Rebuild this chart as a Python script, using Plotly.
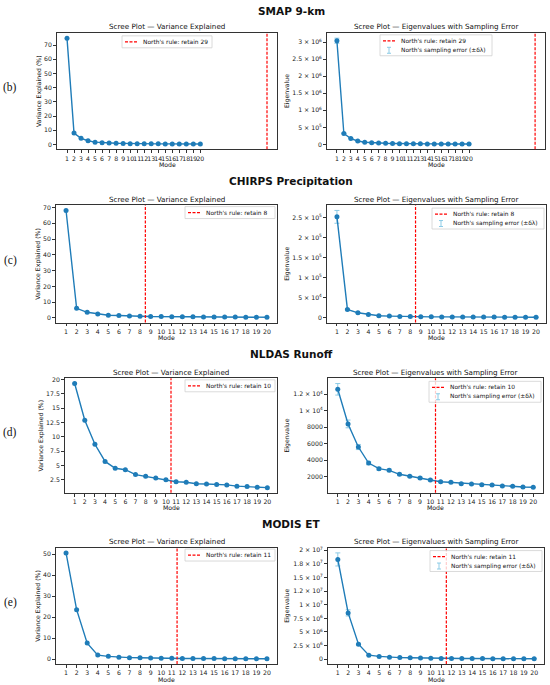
import plotly.graph_objects as go
from plotly.subplots import make_subplots

W, H = 550, 685

modes = list(range(1, 21))

# variance explained (%) per mode
smap_var = [74.9, 8.0, 4.3, 2.6, 1.6, 1.2, 1.0, 0.8, 0.7, 0.55, 0.5, 0.45, 0.4, 0.4, 0.35, 0.35, 0.3, 0.3, 0.3, 0.25]
chirps_var = [68.1, 6.1, 3.6, 2.5, 1.7, 1.6, 1.2, 1.1, 0.9, 0.85, 0.8, 0.7, 0.7, 0.65, 0.6, 0.6, 0.55, 0.5, 0.5, 0.45]
nldas_var = [19.3, 12.9, 8.7, 5.7, 4.5, 4.25, 3.4, 3.1, 2.8, 2.5, 2.15, 2.05, 1.8, 1.75, 1.68, 1.6, 1.38, 1.3, 1.18, 1.12]
modis_var = [50.6, 23.6, 7.7, 2.0, 1.4, 0.95, 0.8, 0.75, 0.6, 0.55, 0.45, 0.4, 0.4, 0.35, 0.35, 0.3, 0.3, 0.3, 0.25, 0.25]

# eigenvalues and North's sampling error
smap_eig = [3.04e6, 3.2e5, 1.7e5, 1.0e5, 6.2e4, 4.6e4, 3.9e4, 3.2e4, 2.8e4, 2.2e4, 2.0e4, 1.8e4, 1.6e4, 1.5e4, 1.4e4, 1.3e4, 1.2e4, 1.1e4, 1.05e4, 1.0e4]
smap_err = [7.5e4, 8.0e3, 4.2e3, 2.5e3, 1.5e3, 1.1e3, 950, 800, 700, 550, 500, 450, 400, 370, 350, 320, 300, 270, 260, 250]
chirps_eig = [2.52e5, 2.1e4, 1.25e4, 8.5e3, 5.2e3, 4.3e3, 3.4e3, 3.0e3, 2.6e3, 2.4e3, 2.3e3, 2.1e3, 2.0e3, 1.9e3, 1.8e3, 1.75e3, 1.7e3, 1.6e3, 1.55e3, 1.5e3]
chirps_err = [1.6e4, 1.3e3, 790, 540, 330, 270, 215, 190, 165, 150, 145, 130, 125, 120, 115, 110, 107, 100, 98, 95]
nldas_eig = [12600, 8400, 5600, 3650, 2970, 2770, 2290, 2040, 1840, 1600, 1390, 1310, 1150, 1110, 1030, 990, 870, 830, 750, 710]
nldas_err = [700, 470, 310, 205, 165, 155, 128, 114, 103, 90, 78, 73, 64, 62, 58, 55, 49, 46, 42, 40]
modis_eig = [1.83e7, 8.5e6, 2.75e6, 7.5e5, 5.2e5, 3.6e5, 3.0e5, 2.7e5, 2.2e5, 2.0e5, 1.6e5, 1.5e5, 1.4e5, 1.3e5, 1.25e5, 1.1e5, 1.05e5, 1.0e5, 9.0e4, 9.0e4]
modis_err = [1.2e6, 5.6e5, 1.8e5, 5.0e4, 3.4e4, 2.4e4, 2.0e4, 1.8e4, 1.5e4, 1.3e4, 1.1e4, 1.0e4, 9.0e3, 8.5e3, 8.0e3, 7.0e3, 7.0e3, 6.5e3, 6.0e3, 6.0e3]

datasets = ["SMAP 9-km", "CHIRPS Precipitation", "NLDAS Runoff", "MODIS ET"]
tags = ["(b)", "(c)", "(d)", "(e)"]
retain = [29, 8, 10, 11]
var_data = [smap_var, chirps_var, nldas_var, modis_var]
eig_data = [smap_eig, chirps_eig, nldas_eig, modis_eig]
err_data = [smap_err, chirps_err, nldas_err, modis_err]
var_dtick = [10, 10, 2.5, 10]

eig_tickvals = [
    [0, 5e5, 1e6, 1.5e6, 2e6, 2.5e6, 3e6],
    [0, 5e4, 1e5, 1.5e5, 2e5, 2.5e5],
    [2000, 4000, 6000, 8000, 1e4, 1.2e4],
    [0, 2.5e6, 5e6, 7.5e6, 1e7, 1.25e7, 1.5e7, 1.75e7, 2e7],
]
eig_ticktext = [
    ["0", "5 × 10<sup>5</sup>", "1 × 10<sup>6</sup>", "1.5 × 10<sup>6</sup>", "2 × 10<sup>6</sup>", "2.5 × 10<sup>6</sup>", "3 × 10<sup>6</sup>"],
    ["0", "5 × 10<sup>4</sup>", "1 × 10<sup>5</sup>", "1.5 × 10<sup>5</sup>", "2 × 10<sup>5</sup>", "2.5 × 10<sup>5</sup>"],
    ["2000", "4000", "6000", "8000", "1 × 10<sup>4</sup>", "1.2 × 10<sup>4</sup>"],
    ["0", "2.5 × 10<sup>6</sup>", "5 × 10<sup>6</sup>", "7.5 × 10<sup>6</sup>", "1 × 10<sup>7</sup>", "1.2 × 10<sup>7</sup>", "1.5 × 10<sup>7</sup>", "1.8 × 10<sup>7</sup>", "2 × 10<sup>7</sup>"],
]

# pixel layout (top, bottom of axes; x extents)
rows_px = [(30, 147), (203, 321), (377, 492), (547, 664)]
left_px = [(57, 277), (56, 277), (65, 277), (56, 277)]
right_px = [(327, 545), (327, 546), (328, 543), (328, 544)]
head_y = [8, 179, 353, 523]
tag_y = [85, 259, 431, 602]

LINE = "#1f7cb8"
ERR = "#8ccbe6"
FONT = "DejaVu Sans"


def px(x):
    return x / W


def py(y):
    return 1 - y / H


def pad(lo, hi):
    d = (hi - lo) * 0.05
    return [lo - d, hi + d]


def text(fig, s, x, y, size, xanchor="center", angle=0, bold=False, family=FONT):
    fig.add_annotation(text="<b>%s</b>" % s if bold else s, x=px(x), y=py(y),
                       xref="paper", yref="paper", showarrow=False,
                       xanchor=xanchor, yanchor="middle", textangle=angle,
                       font=dict(family=family, size=size, color="#111"))


def legend(fig, x0, y0, w, label, with_err):
    h = 21 if with_err else 12
    fig.add_shape(type="rect", xref="paper", yref="paper",
                  x0=px(x0), x1=px(x0 + w), y0=py(y0 + h), y1=py(y0),
                  line=dict(color="#d0d0d0", width=0.8),
                  fillcolor="rgba(255,255,255,0.8)")
    cy = y0 + 6
    fig.add_shape(type="line", xref="paper", yref="paper",
                  x0=px(x0 + 3), x1=px(x0 + 15), y0=py(cy), y1=py(cy),
                  line=dict(color="red", width=1.2, dash="3px,1.5px"))
    text(fig, label, x0 + 19, cy, 5.9, xanchor="left")
    if with_err:
        cy2 = cy + 9.5
        xc = x0 + 9
        fig.add_shape(type="line", xref="paper", yref="paper",
                      x0=px(xc), x1=px(xc), y0=py(cy2 - 3), y1=py(cy2 + 3),
                      line=dict(color=ERR, width=1))
        for yy in (cy2 - 3, cy2 + 3):
            fig.add_shape(type="line", xref="paper", yref="paper",
                          x0=px(xc - 2), x1=px(xc + 2), y0=py(yy), y1=py(yy),
                          line=dict(color=ERR, width=1))
        text(fig, "North's sampling error (±δλ)", x0 + 19, cy2, 5.9, xanchor="left")


fig = make_subplots(rows=4, cols=2)

axis_style = dict(showgrid=False, zeroline=False, showline=True, mirror=True,
                  linecolor="#333", linewidth=0.8, ticks="outside", ticklen=3,
                  tickwidth=0.8, tickcolor="#333",
                  tickfont=dict(family=FONT, size=6.2, color="#222"))

for i in range(4):
    r = i + 1
    top, bot = rows_px[i]
    xmax = max(20, retain[i] + 0.5)
    xr = pad(1, xmax)

    # left: variance explained
    v = var_data[i]
    fig.add_trace(go.Scatter(x=modes, y=v, mode="lines+markers",
                             line=dict(color=LINE, width=1.4),
                             marker=dict(color=LINE, size=5), showlegend=False),
                  row=r, col=1)
    fig.update_xaxes(axis_style, range=xr, tickvals=modes, tickangle=0,
                     domain=[px(left_px[i][0]), px(left_px[i][1])], row=r, col=1)
    fig.update_yaxes(axis_style, range=pad(min(v), max(v)), dtick=var_dtick[i],
                     domain=[py(bot), py(top)], row=r, col=1)

    # right: eigenvalues with error bars
    e = eig_data[i]
    er = err_data[i]
    fig.add_trace(go.Scatter(x=modes, y=e, mode="lines+markers",
                             line=dict(color=LINE, width=1.4),
                             marker=dict(color=LINE, size=5),
                             error_y=dict(type="data", array=er, color=ERR,
                                          thickness=1, width=2.5),
                             showlegend=False),
                  row=r, col=2)
    lo = min(a - b for a, b in zip(e, er))
    hi = max(a + b for a, b in zip(e, er))
    fig.update_xaxes(axis_style, range=xr, tickvals=modes, tickangle=0,
                     domain=[px(right_px[i][0]), px(right_px[i][1])], row=r, col=2)
    fig.update_yaxes(axis_style, range=pad(lo, hi), tickvals=eig_tickvals[i],
                     ticktext=eig_ticktext[i],
                     domain=[py(bot), py(top)], row=r, col=2)

    # North's rule cut-off
    for c in (1, 2):
        n = 2 * i + c
        fig.add_shape(type="line", xref="x%d" % n if n > 1 else "x",
                      yref=("y%d domain" % n) if n > 1 else "y domain",
                      x0=retain[i] + 0.5, x1=retain[i] + 0.5, y0=0, y1=1,
                      line=dict(color="red", width=1.2, dash="3px,1.5px"))

    # texts
    lx0, lx1 = left_px[i]
    rx0, rx1 = right_px[i]
    text(fig, datasets[i], 291, head_y[i], 10.5, bold=True)
    text(fig, tags[i], 10, tag_y[i], 11.5, family="Liberation Serif")
    text(fig, "Scree Plot — Variance Explained", (lx0 + lx1) / 2, top - 6, 7.2)
    text(fig, "Scree Plot — Eigenvalues with Sampling Error", (rx0 + rx1) / 2, top - 6, 7.2)
    text(fig, "Mode", (lx0 + lx1) / 2, bot + 15, 6.2)
    text(fig, "Mode", (rx0 + rx1) / 2, bot + 15, 6.2)
    text(fig, "Variance Explained (%)", lx0 - 18 if i != 2 else lx0 - 24, (top + bot) / 2, 6.2, angle=-90)
    text(fig, "Eigenvalue", 287, (top + bot) / 2, 6.2, angle=-90)

    label = "North's rule: retain %d" % retain[i]
    if i == 0:
        legend(fig, (lx0 + lx1) / 2 - 45, top + 3, 90, label, False)
        legend(fig, (rx0 + rx1) / 2 - 56, top + 2, 112, label, True)
    else:
        legend(fig, lx1 - 92, top + 1.5, 90, label, False)
        legend(fig, rx1 - 114, top + 3, 112, label, True)

fig.update_layout(width=W, height=H, margin=dict(l=0, r=0, t=0, b=0),
                  plot_bgcolor="white", paper_bgcolor="white",
                  font=dict(family=FONT))

# drop the browser's default page margin so the figure sits at (0, 0)
fig.write_html("out.html", config={"displayModeBar": False},
               post_script="document.body.style.margin='0';")
